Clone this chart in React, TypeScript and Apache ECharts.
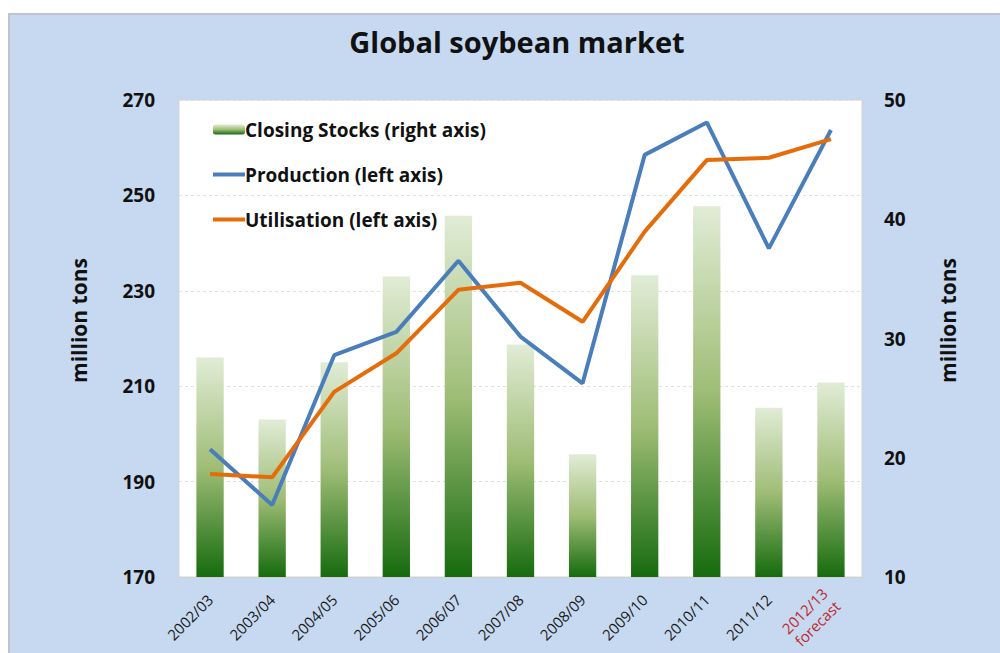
import React, { useEffect, useRef } from "react";
import * as echarts from "echarts";

const categories = ["2002/03", "2003/04", "2004/05", "2005/06", "2006/07", "2007/08", "2008/09", "2009/10", "2010/11", "2011/12", "2012/13"];
const closingStocks = [28.4, 23.2, 28.0, 35.2, 40.3, 29.5, 20.3, 35.3, 41.1, 24.2, 26.3];
const production = [196.8, 185.1, 216.5, 221.4, 236.3, 220.4, 210.6, 258.5, 265.3, 238.9, 263.7];
const utilisation = [191.6, 190.9, 208.8, 216.9, 230.2, 231.7, 223.5, 242.4, 257.4, 257.9, 261.8];
const seriesNames = ["Closing Stocks (right axis)", "Production (left axis)", "Utilisation (left axis)"];
const forecastCategory = "2012/13";
const forecastNote = "forecast";
const titleText = "Global soybean market";
const axisName = "million tons";
const leftAxisRange = { min: 170, max: 270, interval: 20 };
const rightAxisRange = { min: 10, max: 50, interval: 10 };

const FONT = "'Open Sans', 'DejaVu Sans', sans-serif";
const LINE_ICON = "path://M0,0H32V4H0Z";

export default function App() {
  const ref = useRef<HTMLDivElement>(null);
  useEffect(() => {
    if (!ref.current) return;
    const chart = echarts.init(ref.current, undefined, { renderer: "svg" });
    const barGradient = new echarts.graphic.LinearGradient(0, 0, 0, 1, [
      { offset: 0, color: "#e1ecd6" },
      { offset: 0.5, color: "#9fbd76" },
      { offset: 1, color: "#166b0e" },
    ]);
    chart.setOption({
      animation: false,
      textStyle: { fontFamily: FONT },
      title: {
        text: titleText,
        left: 512,
        textAlign: "center",
        top: 22,
        textStyle: { fontSize: 29, fontWeight: "bold", color: "#111", fontFamily: FONT },
      },
      legend: {
        orient: "vertical",
        left: 208,
        top: 115,
        itemGap: 19 + 7,
        itemWidth: 32,
        itemHeight: 10,
        symbolKeepAspect: true,
        data: [
          { name: seriesNames[0] },
          { name: seriesNames[1], icon: LINE_ICON },
          { name: seriesNames[2], icon: LINE_ICON },
        ],
        textStyle: { fontSize: 19, fontWeight: "bold", color: "#111", fontFamily: FONT, padding: [0, 0, 0, -5] },
      },
      grid: {
        left: 179,
        top: 100,
        right: 138,
        bottom: 76,
        show: true,
        backgroundColor: "#ffffff",
        borderColor: "#d4d4d4",
        borderWidth: 1,
      },
      xAxis: {
        type: "category",
        data: categories,
        axisTick: { show: false },
        axisLine: { show: true, lineStyle: { color: "#d0d0d0" } },
        axisLabel: {
          rotate: 45,
          interval: 0,
          margin: 20,
          fontSize: 15,
          color: "#1a1a1a",
          fontFamily: FONT,
          formatter: (v: string) => (v === forecastCategory ? `{r|${v}}\n{r|${forecastNote}}` : v),
          rich: { r: { color: "#c0262d", fontSize: 15, fontFamily: FONT, lineHeight: 18 } },
        },
      },
      yAxis: [
        {
          type: "value",
          position: "left",
          min: leftAxisRange.min,
          max: leftAxisRange.max,
          interval: leftAxisRange.interval,
          name: axisName,
          nameLocation: "middle",
          nameRotate: 90,
          nameGap: 90,
          nameTextStyle: { fontSize: 21, fontWeight: "bold", color: "#111", fontFamily: FONT, padding: [0, 0, 0, 36] },
          axisLine: { show: false },
          axisTick: { show: false },
          axisLabel: { margin: 24, fontSize: 19, fontWeight: "bold", color: "#111", fontFamily: FONT },
          splitLine: { show: true, lineStyle: { color: "#e0e0e0", type: [3, 3] } },
        },
        {
          type: "value",
          position: "right",
          min: rightAxisRange.min,
          max: rightAxisRange.max,
          interval: rightAxisRange.interval,
          name: axisName,
          nameLocation: "middle",
          nameRotate: 90,
          nameGap: 75,
          nameTextStyle: { fontSize: 21, fontWeight: "bold", color: "#111", fontFamily: FONT, padding: [0, 0, 0, 36] },
          axisLine: { show: false },
          axisTick: { show: false },
          axisLabel: { margin: 22, fontSize: 19, fontWeight: "bold", color: "#111", fontFamily: FONT },
          splitLine: { show: false },
        },
      ],
      series: [
        {
          name: seriesNames[0],
          type: "bar",
          yAxisIndex: 1,
          data: closingStocks,
          barWidth: "44%",
          itemStyle: { color: barGradient },
        },
        {
          name: seriesNames[1],
          type: "line",
          yAxisIndex: 0,
          data: production,
          symbol: "none",
          lineStyle: { color: "#4a7ebb", width: 4 },
          itemStyle: { color: "#4a7ebb" },
        },
        {
          name: seriesNames[2],
          type: "line",
          yAxisIndex: 0,
          data: utilisation,
          symbol: "none",
          lineStyle: { color: "#e46c0a", width: 4 },
          itemStyle: { color: "#e46c0a" },
        },
      ],
    });
    return () => chart.dispose();
  }, []);
  return (
    <div style={{ position: "fixed", left: 0, top: 0, width: 1000, height: 653, background: "#ffffff" }}>
      <div
        style={{
          position: "absolute",
          left: 8,
          top: 13,
          right: 0,
          bottom: 0,
          background: "#c6d9f0",
          borderLeft: "2px solid #bcc4cd",
          borderTop: "2px solid #bcc4cd",
        }}
      />
      <div ref={ref} style={{ position: "absolute", left: 0, top: 0, width: 1000, height: 653 }} />
    </div>
  );
}
